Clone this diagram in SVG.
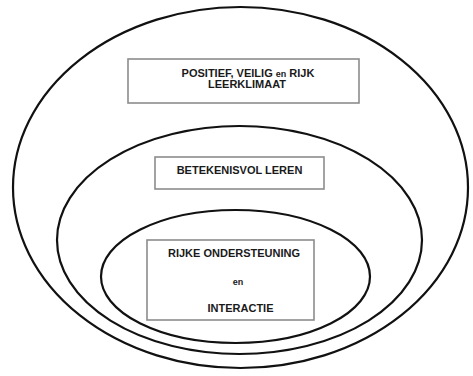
<svg xmlns="http://www.w3.org/2000/svg" width="473" height="376" viewBox="0 0 473 376">
<style>
.ring{fill:none;stroke:#111;stroke-width:2.2}
.box{fill:#fff;stroke:#8c8c8c;stroke-width:1.6}
.lbl{font-family:"Liberation Sans",Arial,sans-serif;font-weight:bold;font-size:11px;fill:#1a1a1a;text-anchor:middle}
.sm{font-size:9px}
</style>
<rect width="473" height="376" fill="#fff"/>
<g id="outer">
<ellipse class="ring" cx="240.5" cy="187.5" rx="227.5" ry="180.5"/>
<rect class="box" x="128" y="59" width="231" height="44"/>
<text class="lbl" x="248" y="77">POSITIEF, VEILIG  <tspan class="sm">en</tspan> RIJK</text>
<text class="lbl" x="247" y="88">LEERKLIMAAT</text>
</g>
<g id="middle">
<ellipse class="ring" cx="239.5" cy="240" rx="182.5" ry="114"/>
<rect class="box" x="155" y="157" width="169" height="32"/>
<text class="lbl" x="239.5" y="174">BETEKENISVOL LEREN</text>
</g>
<g id="inner">
<ellipse class="ring" cx="235.5" cy="276.5" rx="134.5" ry="66.5"/>
<rect class="box" x="147" y="240" width="167" height="80"/>
<text class="lbl" x="234" y="257">RIJKE ONDERSTEUNING</text>
<text class="lbl sm" x="238" y="285">en</text>
<text class="lbl" x="240.5" y="312">INTERACTIE</text>
</g>
</svg>
